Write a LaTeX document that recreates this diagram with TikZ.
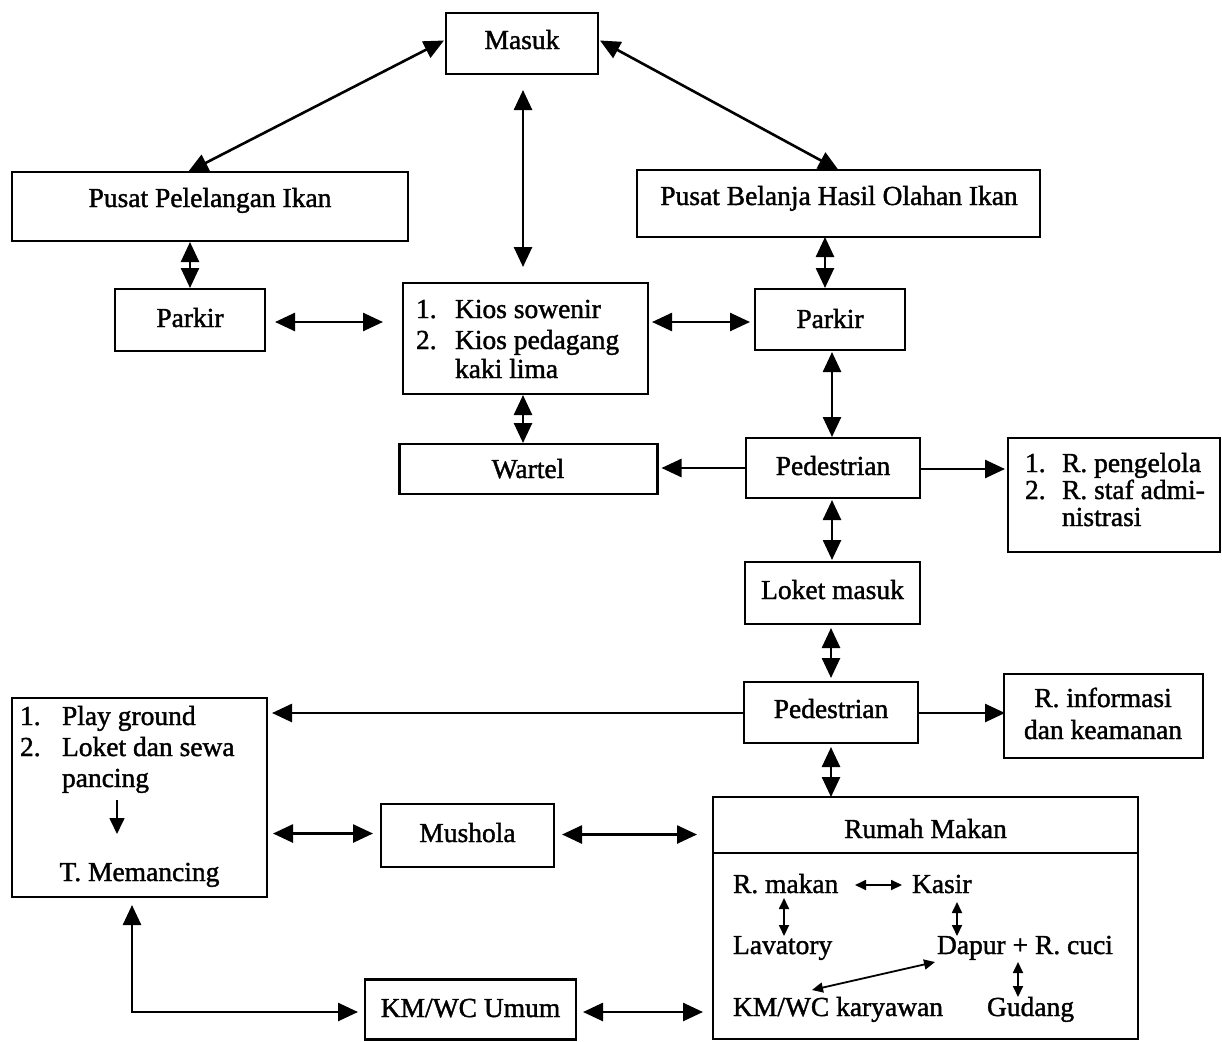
\documentclass[tikz,border=0pt]{standalone}
\usepackage{fontspec}
\setmainfont[FakeBold=1.4]{Liberation Serif}
\usetikzlibrary{arrows.meta,calc}
\begin{document}
\begin{tikzpicture}[x=1pt,y=-1pt,
  every node/.style={font=\fontsize{27.5}{28}\selectfont, inner sep=0pt, outer sep=0pt},
  box/.style={draw, line width=2.8pt, rectangle},
  lbl/.style={anchor=base},
  lft/.style={anchor=base west},
  bigtip/.tip={Triangle[length=20pt,width=18pt]},
  smalltip/.tip={Triangle[length=11pt,width=10pt]},
  link/.style={line width=2.6pt, bigtip-bigtip},
  oneway/.style={line width=2.6pt, -bigtip},
  inner/.style={line width=1.8pt, smalltip-smalltip},
  ]
\useasboundingbox (0,0) rectangle (1222,1041);

% ---- boxes ----
\node[box, minimum width=152, minimum height=61]  (masuk)  at (522,43.5)   {};
\node[box, minimum width=396, minimum height=69]  (pel)    at (210,206.5)  {};
\node[box, minimum width=403, minimum height=67]  (bel)    at (838.5,203.5){};
\node[box, minimum width=150, minimum height=62]  (parkL)  at (190,320)    {};
\node[box, minimum width=245, minimum height=111] (kios)   at (525.5,338.5){};
\node[box, minimum width=150, minimum height=61]  (parkR)  at (830,319.5)  {};
\node[box, minimum width=258, minimum height=50]  (wartel) at (528.5,469)  {};
\node[box, minimum width=174, minimum height=60]  (ped1)   at (833,468)    {};
\node[box, minimum width=212, minimum height=114] (peng)   at (1114,495)   {};
\node[box, minimum width=175, minimum height=62]  (loket)  at (832.5,593)  {};
\node[box, minimum width=174, minimum height=61]  (ped2)   at (831,712.5)  {};
\node[box, minimum width=199, minimum height=84]  (info)   at (1103.5,716) {};
\node[box, minimum width=255, minimum height=199] (play)   at (139.5,797.5){};
\node[box, minimum width=173, minimum height=63]  (mushola) at (467.5,835.5){};
\node[box, minimum width=425, minimum height=56]  (rumahH) at (925.5,825)  {};
\node[box, minimum width=425, minimum height=186] (rumahB) at (925.5,946)  {};
\node[box, minimum width=211, minimum height=60]  (umum)   at (470.5,1009.5){};

% ---- labels ----
\node[lbl] (tMasuk)  at (522,49)   {Masuk};
\node[lbl] (tPel)    at (210,207)  {Pusat Pelelangan Ikan};
\node[lbl] (tBel)    at (839,205)  {Pusat Belanja Hasil Olahan Ikan};
\node[lbl] (tParkL)  at (190,327)  {Parkir};
\node[lbl] (tParkR)  at (830,328)  {Parkir};
\node[lft] (kn1) at (416,318) {1.};
\node[lft] (kt1) at (455,318) {Kios sowenir};
\node[lft] (kn2) at (416,349) {2.};
\node[lft] (kt2) at (455,349) {Kios pedagang};
\node[lft] (kt3) at (455,378) {kaki lima};
\node[lbl] (tWartel) at (528,478)  {Wartel};
\node[lbl] (tPed1)   at (833,475)  {Pedestrian};
\node[lft] (pn1) at (1025,472) {1.};
\node[lft] (pt1) at (1062,472) {R. pengelola};
\node[lft] (pn2) at (1025,499) {2.};
\node[lft] (pt2) at (1062,499) {R. staf admi-};
\node[lft] (pt3) at (1062,526) {nistrasi};
\node[lbl] (tLoket)  at (832.5,599) {Loket masuk};
\node[lbl] (tPed2)   at (831,718)  {Pedestrian};
\node[lbl] (ti1) at (1103,707) {R. informasi};
\node[lbl] (ti2) at (1103,739) {dan keamanan};
\node[lft] (gn1) at (20,725) {1.};
\node[lft] (gt1) at (62,725) {Play ground};
\node[lft] (gn2) at (20,756) {2.};
\node[lft] (gt2) at (62,756) {Loket dan sewa};
\node[lft] (gt3) at (62,787) {pancing};
\node[lbl] (gt4) at (139.5,881) {T. Memancing};
\node[lbl] (tMushola) at (467.5,842) {Mushola};
\node[lbl] (tRumah)  at (925.5,838) {Rumah Makan};
\node[lbl] (tUmum)   at (470.5,1017) {KM/WC Umum};
\node[lft] (rMakan) at (733,893)  {R. makan};
\node[lft] (rKasir) at (912,893)  {Kasir};
\node[lft] (rLav)   at (733,954)  {Lavatory};
\node[lft] (rDapur) at (937,954)  {Dapur + R. cuci};
\node[lft] (rKm)    at (733,1016) {KM/WC karyawan};
\node[lft] (rGud)   at (987,1016) {Gudang};

% ---- connectors ----
\draw[link] ($(masuk.west)+(-2,-3)$) -- ($(pel.north)+(-22,0)$);
\draw[link] ($(masuk.east)+(2,-3)$) -- (bel.north);
\draw[link] ($(masuk.south)+(1,16)$) -- ($(kios.north)+(-2.5,-16)$);
\draw[link] ($(pel.south)+(-20,1)$) -- ($(parkL.north)+(0,-1)$);
\draw[link] ($(parkL.east)+(10,2)$) -- ($(kios.west)+(-20,-16.5)$);
\draw[link] ($(kios.east)+(4,-16.5)$) -- ($(parkR.west)+(-5,2.5)$);
\draw[link] ($(bel.south)+(-13.5,0)$) -- ($(parkR.north)+(-5,-1)$);
\draw[link] ($(parkR.south)+(2,2)$) -- ($(ped1.north)+(-1,-1)$);
\draw[link] ($(kios.south)+(-2.5,1)$) -- ($(wartel.north)+(-5.5,-1)$);
\draw[oneway] (ped1.west) -- ($(wartel.east)+(4,-1)$);
\draw[oneway] ($(ped1.east)+(0,1)$) -- ($(peng.west)+(-3,-26)$);
\draw[link] ($(ped1.south)+(-1,2)$) -- ($(loket.north)+(-0.5,-2)$);
\draw[link] ($(loket.south)+(-1.5,4)$) -- ($(ped2.north)+(0,-4)$);
\draw[oneway] ($(ped2.west)+(0,0.5)$) -- ($(play.north east)+(5,15)$);
\draw[oneway] ($(ped2.east)+(0,0.5)$) -- ($(info.west)+(1,-3)$);
\draw[link] ($(ped2.south)+(0,4)$) -- ($(rumahH.north west)+(118,0)$);
\draw[link] ($(play.east)+(6,36)$) -- ($(mushola.west)+(-8,-2)$);
\draw[link] ($(mushola.east)+(8,-1)$) -- ($(rumahH.west)+(-16,9.5)$);
\draw[link] ($(play.south)+(-7.5,8)$) |- ($(umum.west)+(-7,2.5)$);
\draw[link] ($(umum.east)+(7,2.5)$) -- ($(rumahB.west)+(-10,66)$);

% arrow inside the fishing box
\draw[line width=1.6pt, -{Triangle[length=16pt,width=15pt]}]
  ($(play.north west)+(105,102)$) -- ($(play.north west)+(105,136)$);

% arrows inside the restaurant
\draw[inner] ($(rumahB.north west)+(142,32)$) -- ($(rumahB.north west)+(189,32)$);
\draw[inner] ($(rumahB.north west)+(71,45)$) -- ($(rumahB.north west)+(71,83)$);
\draw[inner] ($(rumahB.north west)+(244,49)$) -- ($(rumahB.north west)+(244,83)$);
\draw[inner] ($(rumahB.north west)+(222,109)$) -- ($(rumahB.north west)+(99,137)$);
\draw[inner] ($(rumahB.north west)+(305,109)$) -- ($(rumahB.north west)+(305,144)$);
\end{tikzpicture}
\end{document}
